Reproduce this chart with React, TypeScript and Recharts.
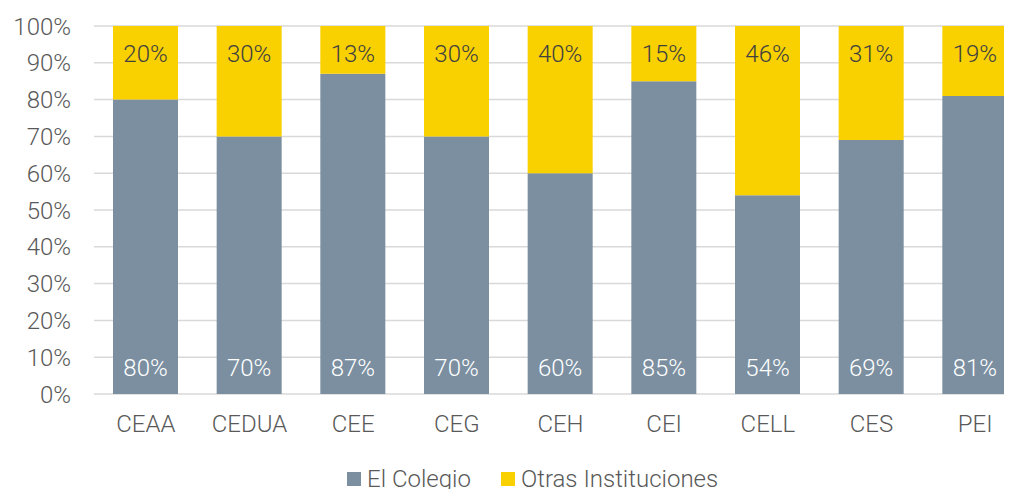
import React from 'react';
import { BarChart, Bar, XAxis, YAxis, CartesianGrid, Legend, LabelList } from 'recharts';

const categories = ['CEAA', 'CEDUA', 'CEE', 'CEG', 'CEH', 'CEI', 'CELL', 'CES', 'PEI'];
const elColegio = [80, 70, 87, 70, 60, 85, 54, 69, 81];
const otras = [20, 30, 13, 30, 40, 15, 46, 31, 19];
const yTicks = [0, 10, 20, 30, 40, 50, 60, 70, 80, 90, 100];
const seriesNames = ['El Colegio', 'Otras Instituciones'];

const GRAY = '#7B8FA1';
const YELLOW = '#F9D000';
const FONT = 'Roboto, "Liberation Sans", sans-serif';
const FS = 24;

const data = categories.map((c, i) => ({ name: c, a: elColegio[i], b: otras[i] }));

const BottomLabel = (props: any) => {
  const { x, y, width, height, value } = props;
  return (
    <text x={x + width / 2} y={y + height - 26} textAnchor="middle" dominantBaseline="central"
      fill="#FFFFFF" fontSize={FS} fontFamily={FONT} fontWeight={300}>{value}%</text>
  );
};

const TopLabel = (props: any) => {
  const { x, y, width, value } = props;
  return (
    <text x={x + width / 2} y={y + 28} textAnchor="middle" dominantBaseline="central"
      fill="#404040" fontSize={FS} fontFamily={FONT} fontWeight={300}>{value}%</text>
  );
};

const LegendContent = () => (
  <div style={{ display: 'flex', alignItems: 'center', paddingLeft: 347, paddingTop: 16, fontFamily: FONT, fontWeight: 300, fontSize: FS, color: '#595959', lineHeight: '28px' }}>
    {[GRAY, YELLOW].map((c, i) => (
      <div key={i} style={{ display: 'flex', alignItems: 'center', marginRight: 30 }}>
        <span style={{ display: 'inline-block', width: 14, height: 14, background: c, marginRight: 6 }} />
        <span>{seriesNames[i]}</span>
      </div>
    ))}
  </div>
);

export default function App() {
  return (
    <div style={{ position: 'relative', left: -8, top: -8, width: 1012, height: 489, overflow: 'hidden', background: '#fff' }}>
      <BarChart width={1027} height={489} data={data} margin={{ top: 26, right: 0, bottom: 0, left: 0 }} barSize={65}>
        <CartesianGrid vertical={false} stroke="#D9D9D9" strokeWidth={1.5} />
        <XAxis dataKey="name" axisLine={false} tickLine={false} tickSize={0} tickMargin={21} height={55}
          tick={{ fill: '#595959', fontSize: FS, fontFamily: FONT, fontWeight: 300 }} />
        <YAxis domain={[0, 100]} ticks={yTicks} tickFormatter={(v: number) => `${v}%`} axisLine={false} tickLine={false}
          tickSize={0} tickMargin={23} width={94} interval={0}
          tick={{ fill: '#595959', fontSize: FS, fontFamily: FONT, fontWeight: 300 }} />
        <Legend verticalAlign="bottom" height={40} content={<LegendContent />} />
        <Bar dataKey="a" stackId="s" fill={GRAY} isAnimationActive={false} name={seriesNames[0]}>
          <LabelList dataKey="a" content={<BottomLabel />} />
        </Bar>
        <Bar dataKey="b" stackId="s" fill={YELLOW} isAnimationActive={false} name={seriesNames[1]}>
          <LabelList dataKey="b" content={<TopLabel />} />
        </Bar>
      </BarChart>
    </div>
  );
}
